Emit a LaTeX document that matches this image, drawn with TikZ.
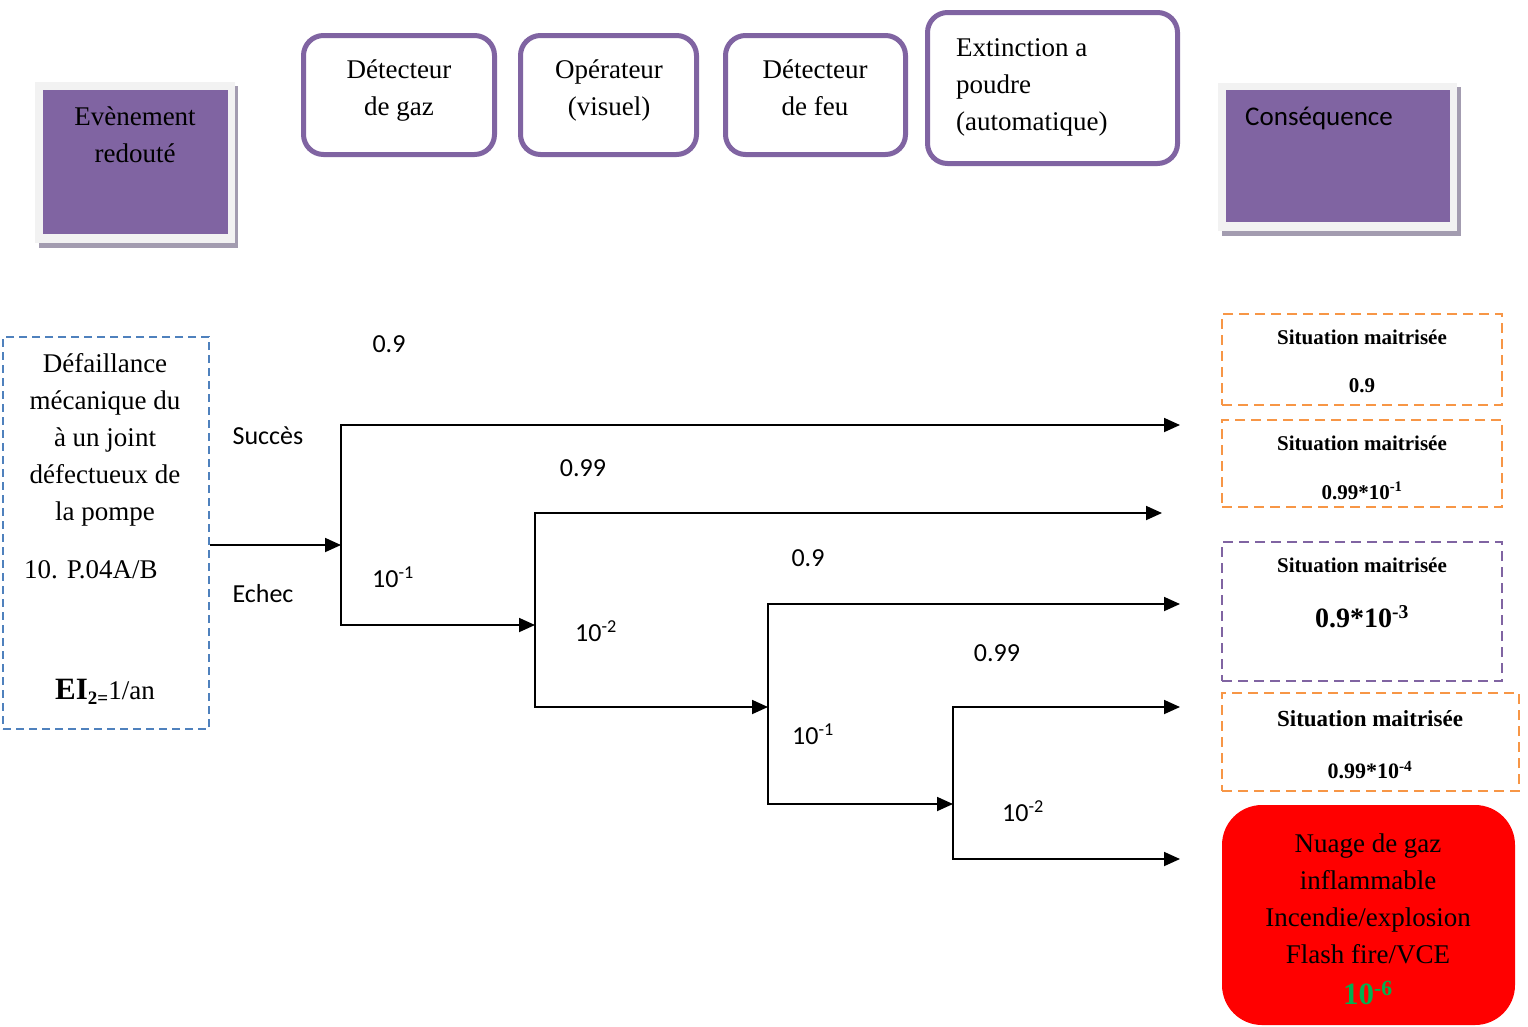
\documentclass[tikz,border=0pt]{standalone}
\usepackage{fontspec}
\setmainfont{Liberation Serif}
\newfontfamily\calibri{Carlito}
\usetikzlibrary{arrows.meta}
\definecolor{evpurple}{HTML}{8064A2}
\definecolor{evblue}{HTML}{4F81BD}
\definecolor{evorange}{HTML}{F79646}
\definecolor{evgreen}{HTML}{00B050}
\definecolor{frameg}{HTML}{F2F2F2}
\definecolor{shadowg}{HTML}{A39CB0}
\begin{document}
\begin{tikzpicture}[x=1pt,y=-1pt,
  hdr/.style={draw=evpurple, line width=5pt, rounded corners=20pt, fill=white, inner sep=0pt},
  tms/.style={font=\fontsize{27}{37}\selectfont, align=center, inner sep=0pt},
  cal/.style={font=\calibri\fontsize{26}{30}\selectfont, inner sep=0pt},
  sit/.style={font=\bfseries\fontsize{21}{24}\selectfont, inner sep=0pt},
  flow/.style={line width=1.8pt, -{Triangle[length=16pt,width=14pt]}},
  dbox/.style={dash pattern=on 10pt off 6pt, line width=2pt, inner sep=0pt},
  pbox/.style={fill=evpurple, inner sep=0pt},
  ]
\useasboundingbox (0,0) rectangle (1528,1026);

% ---- Evenement redoute
\fill[shadowg] (39,86) rectangle (238,248);
\fill[frameg] (35,82) rectangle (235,243);
\node[pbox, minimum width=185pt, minimum height=144pt] (er) at (135.5,162) {};
\node[tms] (ert) at (135,135) {Evènement\\redouté};

% ---- Consequence
\fill[shadowg] (1222,87) rectangle (1461,236);
\fill[frameg] (1218,83) rectangle (1457,231);
\node[pbox, minimum width=224pt, minimum height=132pt] (cq) at (1338,156) {};
\node[cal, font=\calibri\fontsize{27}{30}\selectfont, anchor=west] (cqt) at (1245,118) {Conséquence};

% ---- header boxes
\node[hdr, minimum width=191pt, minimum height=119pt] (h1) at (399,95) {};
\node[tms] (h1t) at (399,90.5) {Détecteur\\de gaz};
\node[hdr, minimum width=176pt, minimum height=119pt] (h2) at (608.5,95) {};
\node[tms] (h2t) at (609,90.5) {Opérateur\\(visuel)};
\node[hdr, minimum width=180pt, minimum height=119pt] (h3) at (815.5,95) {};
\node[tms] (h3t) at (815,87.5) {Détecteur\\de feu};
\node[hdr, minimum width=250pt, minimum height=151pt] (h4) at (1052.5,88) {};
\node[tms, align=left, anchor=west] (h4t) at (956,87) {Extinction a\\poudre\\(automatique)};

% ---- initiating event
\node[draw=evblue, dbox, dash pattern=on 8pt off 5pt, minimum width=206pt, minimum height=392pt] (ev) at (106,533) {};
\node[tms] (evt) at (105,440) {Défaillance\\mécanique du\\à un joint\\défectueux de\\la pompe};
\node[tms, anchor=west] (evr) at (24,570) {10. P.04A/B};
\node[inner sep=0pt, font=\fontsize{27}{30}\selectfont] (evf) at (105,692)
  {{\fontsize{31}{31}\selectfont\bfseries EI}\raisebox{-5pt}{\bfseries\fontsize{19}{19}\selectfont 2=}1/an};

% ---- branching coordinates
\coordinate (n1) at (341,545);
\coordinate (n2) at (535,625);
\coordinate (n3) at (768,707);
\coordinate (n4) at (953,804);
\coordinate (e1) at (1180,425);
\coordinate (e2) at (1162,513);
\coordinate (e3) at (1180,604);
\coordinate (e4) at (1180,707);
\coordinate (e5) at (1180,859);

\draw[flow] (ev.east |- n1) -- (n1);
\draw[flow] (n1) |- (e1);
\draw[flow] (n1) |- (n2);
\draw[flow] (n2) |- (e2);
\draw[flow] (n2) |- (n3);
\draw[flow] (n3) |- (e3);
\draw[flow] (n3) |- (n4);
\draw[flow] (n4) |- (e4);
\draw[flow] (n4) |- (e5);

% ---- branch labels
\node[cal] (l1) at (389,344) {0.9};
\node[cal] (l2) at (268,436) {Succès};
\node[cal] (l3) at (263,594) {Echec};
\node[cal] (l4) at (393,577) {10\textsuperscript{-1}};
\node[cal] (l5) at (583,468) {0.99};
\node[cal] (l6) at (596,631) {10\textsuperscript{-2}};
\node[cal] (l7) at (808,558) {0.9};
\node[cal] (l8) at (997,653) {0.99};
\node[cal] (l9) at (813,734) {10\textsuperscript{-1}};
\node[cal] (l10) at (1023,811) {10\textsuperscript{-2}};

% ---- consequence boxes
\node[draw=evorange, dbox, minimum width=280pt, minimum height=91pt] (c1) at (1362,359.5) {};
\node[sit] (c1a) at (1362,337) {Situation maitrisée};
\node[sit] (c1b) at (1362,386) {0.9};

\node[draw=evorange, dbox, minimum width=280pt, minimum height=87pt] (c2) at (1362,463.5) {};
\node[sit] (c2a) at (1362,443) {Situation maitrisée};
\node[sit] (c2b) at (1362,491) {0.99*10\textsuperscript{-1}};

\node[draw=evpurple, dbox, minimum width=280pt, minimum height=139pt] (c3) at (1362,611.5) {};
\node[sit] (c3a) at (1362,565) {Situation maitrisée};
\node[sit, font=\bfseries\fontsize{28}{30}\selectfont] (c3b) at (1362,617) {0.9*10\textsuperscript{-3}};

\node[draw=evorange, dbox, minimum width=297pt, minimum height=98pt] (c4) at (1370.5,742) {};
\node[sit, font=\bfseries\fontsize{23}{26}\selectfont] (c4a) at (1370,719) {Situation maitrisée};
\node[sit, font=\bfseries\fontsize{22}{26}\selectfont] (c4b) at (1370,770) {0.99*10\textsuperscript{-4}};

\node[fill=red, rounded corners=40pt, minimum width=293pt, minimum height=220pt, inner sep=0pt] (c5) at (1368.5,915) {};
\node[tms] (c5t) at (1368,898.5) {Nuage de gaz\\inflammable\\Incendie/explosion\\Flash fire/VCE};
\node[inner sep=0pt, text=evgreen, font=\bfseries\fontsize{31}{31}\selectfont] (c5g) at (1368,993) {10\textsuperscript{-6}};
\end{tikzpicture}
\end{document}
